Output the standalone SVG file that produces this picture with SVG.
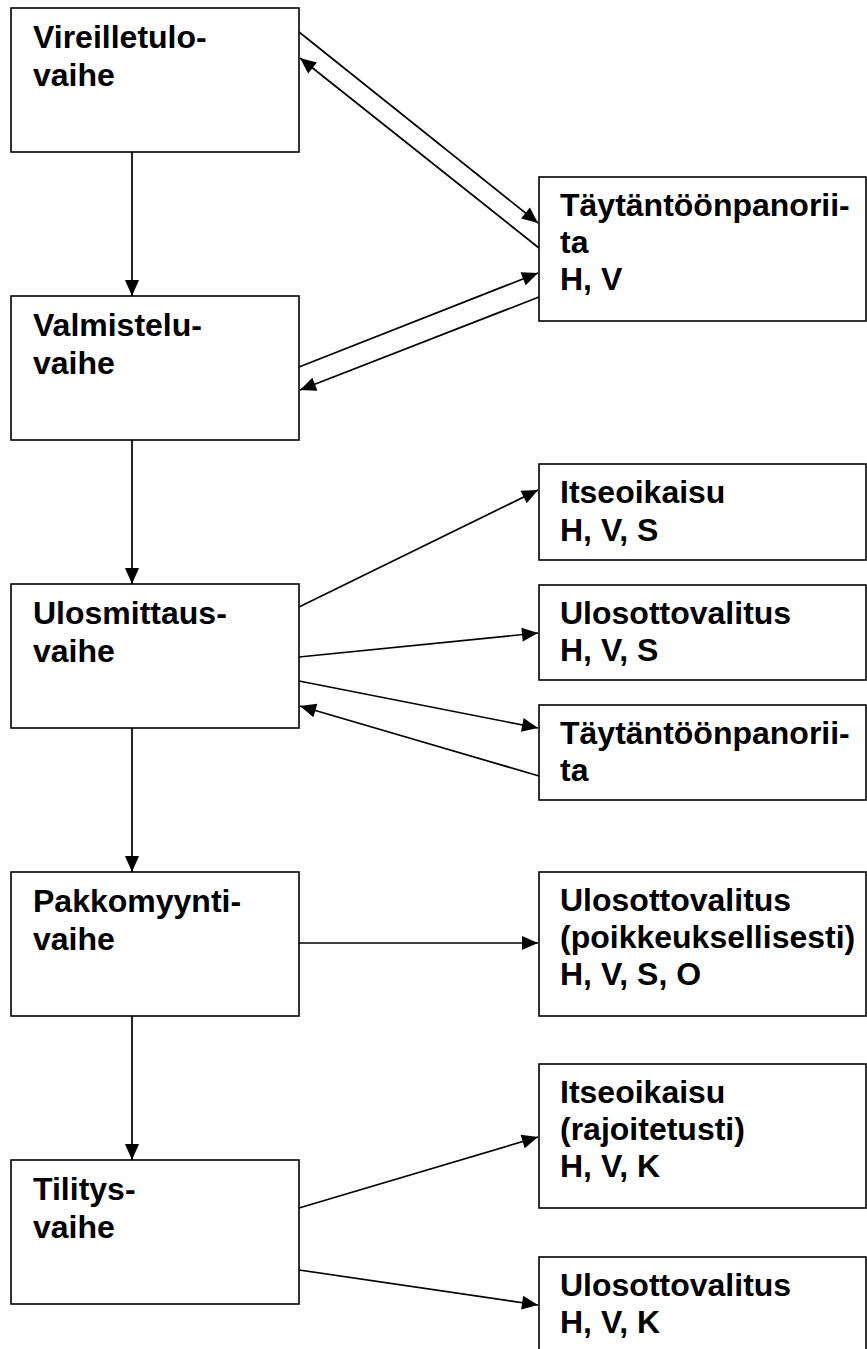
<svg xmlns="http://www.w3.org/2000/svg" width="867" height="1349" viewBox="0 0 867 1349">
<style>
.box{fill:#fff;stroke:#000;stroke-width:1.6}
.t{font-family:"Liberation Sans",Arial,sans-serif;font-weight:bold;font-size:32px;fill:#000}
.c{stroke:#000;stroke-width:1.7;fill:none;marker-end:url(#ah)}
</style>
<defs>
<marker id="ah" markerUnits="userSpaceOnUse" markerWidth="16" markerHeight="14" refX="16" refY="7" orient="auto" overflow="visible">
<path d="M0,0 L16,7 L0,14 z" fill="#000"/>
</marker>
</defs>
<rect width="867" height="1349" fill="#fff"/>
<g id="connectors">
<line class="c" x1="132" y1="152" x2="132" y2="296"/>
<line class="c" x1="132" y1="440" x2="132" y2="584"/>
<line class="c" x1="132" y1="728" x2="132" y2="872"/>
<line class="c" x1="132" y1="1016" x2="132" y2="1160"/>
<line class="c" x1="299" y1="32" x2="538" y2="223"/>
<line class="c" x1="539" y1="248" x2="300" y2="58"/>
<line class="c" x1="299" y1="367" x2="538" y2="273"/>
<line class="c" x1="539" y1="297" x2="300" y2="390"/>
<line class="c" x1="299" y1="607" x2="538" y2="490"/>
<line class="c" x1="299" y1="657" x2="538" y2="633"/>
<line class="c" x1="299" y1="681" x2="538" y2="728"/>
<line class="c" x1="539" y1="776" x2="300" y2="706"/>
<line class="c" x1="299" y1="943" x2="538" y2="943"/>
<line class="c" x1="299" y1="1208" x2="538" y2="1137"/>
<line class="c" x1="299" y1="1270" x2="538" y2="1305"/>
</g>
<g id="n-vireilletulo">
<rect class="box" x="11" y="8" width="288" height="144"/>
<text class="t" x="33" y="48">Vireilletulo-</text>
<text class="t" x="33" y="86">vaihe</text>
</g>
<g id="n-valmistelu">
<rect class="box" x="11" y="296" width="288" height="144"/>
<text class="t" x="33" y="336">Valmistelu-</text>
<text class="t" x="33" y="374">vaihe</text>
</g>
<g id="n-ulosmittaus">
<rect class="box" x="11" y="584" width="288" height="144"/>
<text class="t" x="33" y="624">Ulosmittaus-</text>
<text class="t" x="33" y="662">vaihe</text>
</g>
<g id="n-pakkomyynti">
<rect class="box" x="11" y="872" width="288" height="144"/>
<text class="t" x="33" y="912">Pakkomyynti-</text>
<text class="t" x="33" y="950">vaihe</text>
</g>
<g id="n-tilitys">
<rect class="box" x="11" y="1160" width="288" height="144"/>
<text class="t" x="33" y="1200">Tilitys-</text>
<text class="t" x="33" y="1238">vaihe</text>
</g>
<g id="r-taytantoonpanoriita1">
<rect class="box" x="539" y="177" width="327" height="144"/>
<text class="t" x="560" y="216">Täytäntöönpanorii-</text>
<text class="t" x="560" y="253">ta</text>
<text class="t" x="560" y="290">H, V</text>
</g>
<g id="r-itseoikaisu1">
<rect class="box" x="539" y="464" width="327" height="96"/>
<text class="t" x="560" y="503">Itseoikaisu</text>
<text class="t" x="560" y="541">H, V, S</text>
</g>
<g id="r-ulosottovalitus1">
<rect class="box" x="539" y="585" width="327" height="95"/>
<text class="t" x="560" y="624">Ulosottovalitus</text>
<text class="t" x="560" y="661">H, V, S</text>
</g>
<g id="r-taytantoonpanoriita2">
<rect class="box" x="539" y="705" width="327" height="95"/>
<text class="t" x="560" y="744">Täytäntöönpanorii-</text>
<text class="t" x="560" y="781">ta</text>
</g>
<g id="r-ulosottovalitus2">
<rect class="box" x="539" y="872" width="327" height="144"/>
<text class="t" x="560" y="911">Ulosottovalitus</text>
<text class="t" x="560" y="948">(poikkeuksellisesti)</text>
<text class="t" x="560" y="985">H, V, S, O</text>
</g>
<g id="r-itseoikaisu2">
<rect class="box" x="539" y="1064" width="327" height="144"/>
<text class="t" x="560" y="1103">Itseoikaisu</text>
<text class="t" x="560" y="1140">(rajoitetusti)</text>
<text class="t" x="560" y="1177">H, V, K</text>
</g>
<g id="r-ulosottovalitus3">
<rect class="box" x="539" y="1257" width="327" height="144"/>
<text class="t" x="560" y="1296">Ulosottovalitus</text>
<text class="t" x="560" y="1333">H, V, K</text>
</g>
</svg>
